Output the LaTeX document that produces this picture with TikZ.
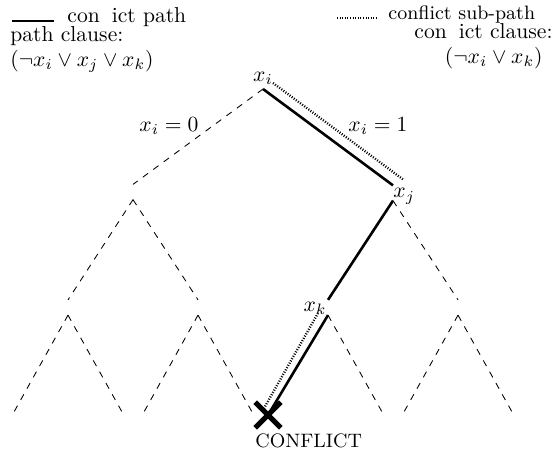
\documentclass[tikz,border=0pt]{standalone}
\usetikzlibrary{shapes.misc,calc}
\begin{document}
\begin{tikzpicture}[x=0.463pt,y=-0.463pt,
  vx/.style={inner sep=3.33pt, minimum size=0pt},
  treeedge/.style={dashed, line width=0.4pt},
  cpath/.style={line width=1.2pt},
  subpath/.style={line width=1.1pt, dash pattern=on 0.45pt off 0.75pt},
  lbl/.style={inner sep=0pt},
  ]
\useasboundingbox (0,0) rectangle (556,453);
% tree vertices
\node[inner sep=2pt] (r) at (263,78) {$x_i$};
\node[vx] (a) at (133,192) {};
\node[vx] (b) at (393,193) {};
\node[vx] (aa) at (68,307.5) {};
\node[vx] (ab) at (198,307.5) {};
\node[vx] (ba) at (328,307.5) {};
\node[vx] (bb) at (458,307.5) {};
\node[vx] (l1) at (11.5,424) {};
\node[vx] (l2) at (124.5,424) {};
\node[vx] (l3) at (141.5,424) {};
\node[vx] (l4) at (254.5,424) {};
\node[vx] (l6) at (384.5,424) {};
\node[vx] (l7) at (401.5,424) {};
\node[vx] (l8) at (514.5,424) {};
\node[cross out, draw, line width=2.4pt, minimum size=9.5pt, inner sep=0pt] (cf) at (268,415) {};
% dashed tree
\draw[treeedge] (r.south) -- (a.north);
\draw[treeedge] (a.south) -- (aa.north);
\draw[treeedge] (a.south) -- (ab.north);
\draw[treeedge] (aa.south) -- (l1.north);
\draw[treeedge] (aa.south) -- (l2.north);
\draw[treeedge] (ab.south) -- (l3.north);
\draw[treeedge] (ab.south) -- (l4.north);
\draw[treeedge] (b.south) -- (bb.north);
\draw[treeedge] (ba.south) -- (l6.north);
\draw[treeedge] (bb.south) -- (l7.north);
\draw[treeedge] (bb.south) -- (l8.north);
% conflict path
\draw[cpath] (r.south) -- (b.north);
\draw[cpath] (b.south) -- (ba.north);
\draw[cpath] (ba.south) -- (cf.center);
% conflict sub-path
\draw[subpath] ($(r.south)+(10,-6)$) -- ($(b.north)+(10,-6)$);
\draw[subpath] ($(ba.south)+(-10,-2)$) -- ($(cf.center)+(-5,-5)$);
% vertex labels
\node[lbl, anchor=base west] (lxj) at (393,198) {$x_j$};
\node[lbl, anchor=base east] (lxk) at (327,311) {$x_k$};
\node[lbl] (e0) at (169,126) {$x_i = 0$};
\node[lbl] (e1) at (378,126) {$x_i = 1$};
\node[lbl, anchor=base west] (cft) at (255,447) {\small CONFLICT};
% legend left
\coordinate (lgA) at (12,21);
\coordinate (lgB) at (54,21);
\draw[cpath] (lgA) -- (lgB);
\node[lbl, anchor=base west] (lgp) at (67,23) {con\phantom{fl}ict path};
\node[lbl, anchor=base west] (pc) at (10,42) {path clause:};
\node[lbl, anchor=west] (pcf) at (10,61) {$(\neg x_i \vee x_j \vee x_k)$};
% legend right
\coordinate (lgC) at (337,18);
\coordinate (lgD) at (377,18);
\draw[subpath] (lgC) -- (lgD);
\node[lbl, anchor=base west] (lgs) at (388,20) {\small conflict sub-path};
\node[lbl, anchor=base east] (cc) at (553,39) {con\phantom{fl}ict clause:};
\node[lbl, anchor=east] (ccf) at (543,58) {$(\neg x_i \vee x_k)$};
\end{tikzpicture}
\end{document}
